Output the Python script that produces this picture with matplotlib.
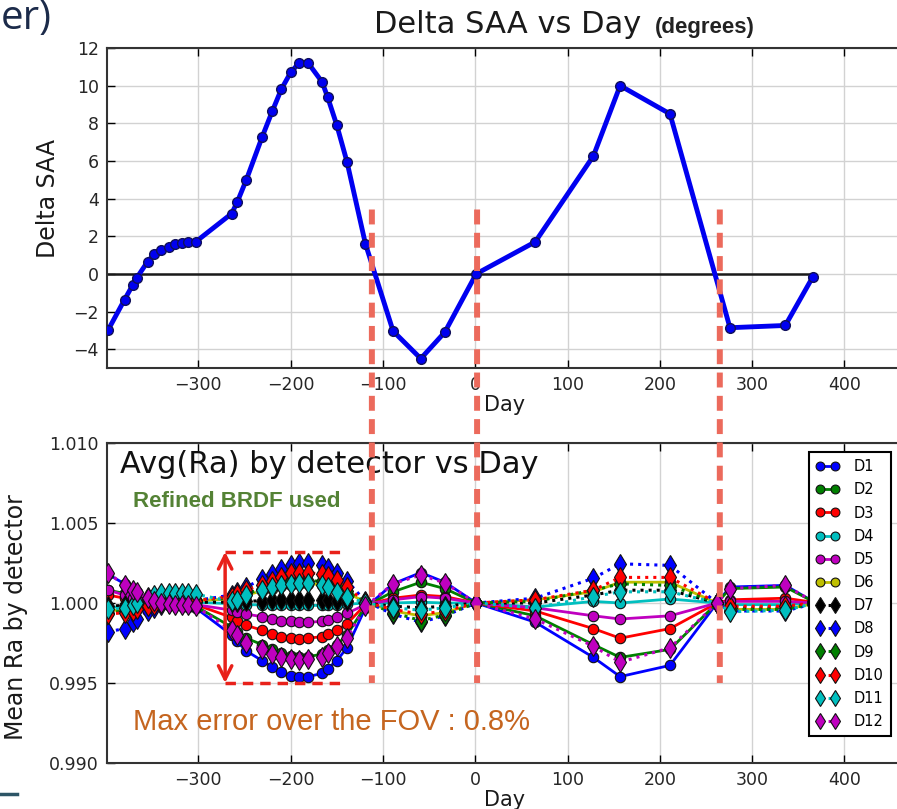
import numpy as np
import matplotlib.pyplot as plt
from matplotlib.patches import ConnectionPatch
from matplotlib.lines import Line2D

# ---- top panel: Delta SAA (degrees) vs day ----
saa_day = [-398, -380, -371, -367, -355, -348, -340, -332, -325, -318, -311, -303,
           -264, -258, -248, -231, -220, -210, -200, -191, -181, -166, -160, -150, -139,
           -119, -89, -59, -33, 1, 65, 128, 157, 211, 276, 336, 366]
saa_deg = [-3.0, -1.37, -0.58, -0.23, 0.65, 1.05, 1.26, 1.44, 1.58, 1.65, 1.67, 1.7,
           3.2, 3.8, 5.0, 7.26, 8.63, 9.82, 10.7, 11.2, 11.2, 10.2, 9.4, 7.9, 5.96,
           1.6, -3.04, -4.5, -3.1, 0.0, 1.7, 6.26, 10.0, 8.5, -2.86, -2.74, -0.14]

# ---- bottom panel: mean Ra per detector, stored as offset from 1.0 in units of 1e-4 ----
ra_day = [-398, -380, -371, -367, -355, -348, -340, -332, -325, -318, -311, -303,
          -264, -258, -248, -231, -220, -210, -200, -191, -181, -166, -160, -150, -139,
          -119, -89, -59, -33, 1, 65, 128, 157, 211, 262, 276, 336, 366]
d1 = [18, 12, 9, 7, 3, 1, 0, -1, -1.5, -2, -2.5, -3,
      -20, -24, -30, -36, -40, -43, -45.5, -46.5, -46, -44, -41, -36, -28,
      -3, 12, 19, 13, 0, -12, -34, -46, -39, 0, 10, 11, 1]
d2 = [8, 6, 4, 3, 1, 0, -0.5, -1, -1, -1, -1.5, -2,
      -15, -18, -22, -26, -29, -31.5, -33, -34, -33.5, -32, -29.5, -26, -20,
      -2, 7, 13, 9, 0, -8, -26, -34, -29, 0, 9, 10, 1]
d3 = [5, 3, 2, 2, 1, 0.5, 0, -0.5, -0.5, -1, -1, -1,
      -9, -11, -14, -17, -19.5, -21, -22, -22.5, -22, -21, -19.5, -17, -13,
      -1, 3, 5, 4, 0, -5, -16, -22, -16, 0, 2, 3, 0.5]
d4 = [-3, -2, -1, -0.5, 0, 0.5, 0.5, 0.5, 0.5, 0.5, 0.5, 0.5,
      -0.5, -0.7, -1, -1.2, -1.3, -1.5, -1.5, -1.5, -1.5, -1.5, -1.3, -1, -0.8,
      0, 0, 0.5, 0, 0, -2.5, 1, 0, 2.5, 0, -1, -1, 0]
d5 = [8, 5, 3, 2, 1, 0.5, 0, 0, -0.5, -0.5, -0.5, -1,
      -4.5, -5.5, -7, -8.5, -10, -11, -11.5, -12, -12, -11.5, -10.5, -9, -6.5,
      -1, 2, 4, 3, 0, -3, -8, -10, -8, 0, 1, 1, 0]
d6 = [-5, -4, -3, -2, -1, 0, 0.5, 1, 1, 1, 1, 1.5,
      2.5, 3.5, 5, 7.5, 9, 10.5, 11.5, 12, 12, 11.5, 10.5, 9, 6.5,
      0.5, -5, -8, -6, 0, 2, 7, 13, 13, 0, -4, -4, -0.5]
d7 = [-2, -1.5, -1, -1, 0, 0, 0, 0, 0, 0, 0.5, 0.5,
      0.5, 0.5, 1, 1.5, 1.8, 2, 2, 2, 2, 2, 1.8, 1.5, 1,
      0, -2, -3, -2, 0, 0, 5, 8, 8, 0, -3, -3, 0]
d8 = [-18, -16, -12, -10, -5, -3, -1, 0, 0.5, 1, 1, 1.5,
      5, 7, 10, 15, 18, 21, 24, 25, 25, 24, 22, 19, 14,
      1, -7, -12, -8, 0, 3, 15.5, 24.5, 23.5, 0, -5, -5, -0.5]
d9 = [-6, -5, -4, -3, -1, 0, 0.5, 1, 1, 1.5, 1.5, 2,
      3, 4, 6, 8.5, 10.5, 12, 13.5, 14, 14, 13.5, 12.5, 10.5, 7.5,
      0.5, -6, -11, -7.5, 0, 1, 8, 12, 11, 0, -4, -4, -0.5]
d10 = [-7, -6, -5, -4, -2, -1, 0, 0.5, 1, 1, 1, 1.5,
       4, 5.5, 8, 11.5, 14, 16.5, 18.5, 19, 19, 18, 17, 14.5, 10,
       0.5, -4, -7, -5, 0, 2, 8, 16, 16, 0, -2, -2, 0]
d11 = [-4, -3, -1, 0, 4, 5, 6, 6, 6, 6, 6, 5.5,
       1, 2, 5, 8, 10, 11.5, 12, 12.5, 12.5, 11.5, 10, 7, 4,
       0, -3, -4.5, -3, 0, -3, 4, 7, 7, 0, -5.5, -4.5, -0.5]
d12 = [19, 11, 8, 7, 3, 1, 0, -0.5, -1, -1, -1.5, -2,
       -17, -20, -25, -29, -32, -34, -35, -35.5, -35, -34, -31, -27, -22,
       -2, 12, 17.5, 12.5, 0, -10, -27, -37, -28, 0, 9, 11, 1]

detectors = ['D1', 'D2', 'D3', 'D4', 'D5', 'D6', 'D7', 'D8', 'D9', 'D10', 'D11', 'D12']
ra_dev = [d1, d2, d3, d4, d5, d6, d7, d8, d9, d10, d11, d12]
det_colors = ['#0000ff', '#008000', '#ff0000', '#00bfbf', '#bf00bf', '#bfbf00',
              '#000000', '#0000ff', '#008000', '#ff0000', '#00bfbf', '#bf00bf']

# annotations
flip_days = [-112, 2, 265]
box_days = [-271, -140]
box_ra = [0.9950, 1.0032]

W, H = 897, 809
fig = plt.figure(figsize=(W / 100, H / 100), dpi=100)
ax1 = fig.add_axes([107 / W, 1 - 368 / H, 802 / W, 320 / H])
ax2 = fig.add_axes([107 / W, 1 - 763 / H, 802 / W, 320 / H])

for ax in (ax1, ax2):
    ax.grid(True, color='#d2d2d2', lw=1)
    ax.set_axisbelow(True)
    ax.tick_params(direction='in', length=6, width=1, top=True, right=True,
                   labelsize=12.5, labelcolor='#262626', pad=6)
    for s in ax.spines.values():
        s.set_color('#333333')
        s.set_linewidth(1.5)
    ax.set_xlim(-399, 470)
    ax.set_xticks(range(-300, 401, 100))

# top panel
ax1.hlines(0, -399, saa_day[-1], color='#1a1a1a', lw=1.8, zorder=2)
ax1.plot(saa_day, saa_deg, '-o', color='#0000f0', lw=3.5, ms=7,
         mec='#10105a', mew=1, zorder=3)
ax1.set_ylim(-5, 12)
ax1.set_yticks(range(-4, 13, 2))
ax1.set_title('Delta SAA vs Day', fontsize=22, pad=11, color='#1a1a1a')
ax1.set_ylabel('Delta SAA', fontsize=17, color='#1a1a1a')
ax1.yaxis.set_label_coords(-0.0586, 0.53)
ax1.set_xlabel('Day', fontsize=15, color='#1a1a1a')
ax1.xaxis.set_label_coords(0.496, -0.084)

# bottom panel
for i, (name, dev) in enumerate(zip(detectors, ra_dev)):
    ra = 1 + np.array(dev) * 1e-4
    if i < 6:
        ax2.plot(ra_day, ra, '-o', color=det_colors[i], lw=2, ms=7.5,
                 mec='#111111', mew=0.8, label=name, zorder=3)
    else:
        ax2.plot(ra_day, ra, ':d', color=det_colors[i], lw=2.2, ms=10,
                 mec='#111111', mew=0.8, label=name, zorder=4)
ax2.set_ylim(0.990, 1.010)
ax2.set_yticks([0.990, 0.995, 1.000, 1.005, 1.010])
ax2.yaxis.set_major_formatter(plt.FormatStrFormatter('%.3f'))
ax2.set_ylabel('Mean Ra by detector', fontsize=17, color='#1a1a1a')
ax2.yaxis.set_label_coords(-0.0985, 0.456)
ax2.set_xlabel('Day', fontsize=15, color='#1a1a1a')
ax2.xaxis.set_label_coords(0.496, -0.084)

leg = ax2.legend(loc='upper left', bbox_to_anchor=(0.875, 0.972), fontsize=10.5,
                 numpoints=2, fancybox=False, edgecolor='black', framealpha=1,
                 borderaxespad=0, labelspacing=0.56, handlelength=1.6,
                 handletextpad=1.0, borderpad=0.5, markerscale=0.85)
leg.get_frame().set_linewidth(1.5)

# red error box + arrow
red = '#e8211a'
ax2.plot(box_days, [box_ra[1]] * 2, ls=(0, (3, 2)), color=red, lw=2.5, zorder=6)
ax2.plot(box_days, [box_ra[0]] * 2, ls=(0, (3, 2)), color=red, lw=2.5, zorder=6)
ax2.annotate('', xy=(box_days[0], box_ra[0]), xytext=(box_days[0], box_ra[1]),
             arrowprops=dict(arrowstyle='<->', color=red, lw=2.5,
                             mutation_scale=24, shrinkA=0, shrinkB=0), zorder=6)

# salmon dashed markers spanning both panels
for d in flip_days:
    con = ConnectionPatch(xyA=(d, 3.42), coordsA=ax1.transData,
                          xyB=(d, 0.995), coordsB=ax2.transData,
                          color='#ec6a5c', lw=4.3, linestyle=(0, (2.5, 1.4)),
                          capstyle='butt', zorder=10)
    fig.add_artist(con)

# texts
fig.text(655 / W, 1 - 33 / H, '(degrees)', fontsize=16, fontweight='bold',
         family='Liberation Sans', color='#222222', va='baseline')
fig.text(120 / W, 1 - 473 / H, 'Avg(Ra) by detector vs Day', fontsize=22,
         color='#111111', va='baseline')
fig.text(133 / W, 1 - 507 / H, 'Refined BRDF used', fontsize=16, fontweight='bold',
         family='Liberation Sans', color='#548235', va='baseline')
fig.text(133 / W, 1 - 730 / H, 'Max error over the FOV : 0.8%', fontsize=21,
         family='Liberation Sans', color='#c5651f', va='baseline')

# slide fragments
fig.text(1 / W, 1 - 29 / H, 'er)', fontsize=29, family='Open Sans',
         color='#1c2b4a', ha='left', va='baseline')
fig.add_artist(Line2D([0, 17 / W], [1 - 794 / H] * 2, color='#2d5566', lw=2.5))

plt.savefig('out.png', dpi=100)
